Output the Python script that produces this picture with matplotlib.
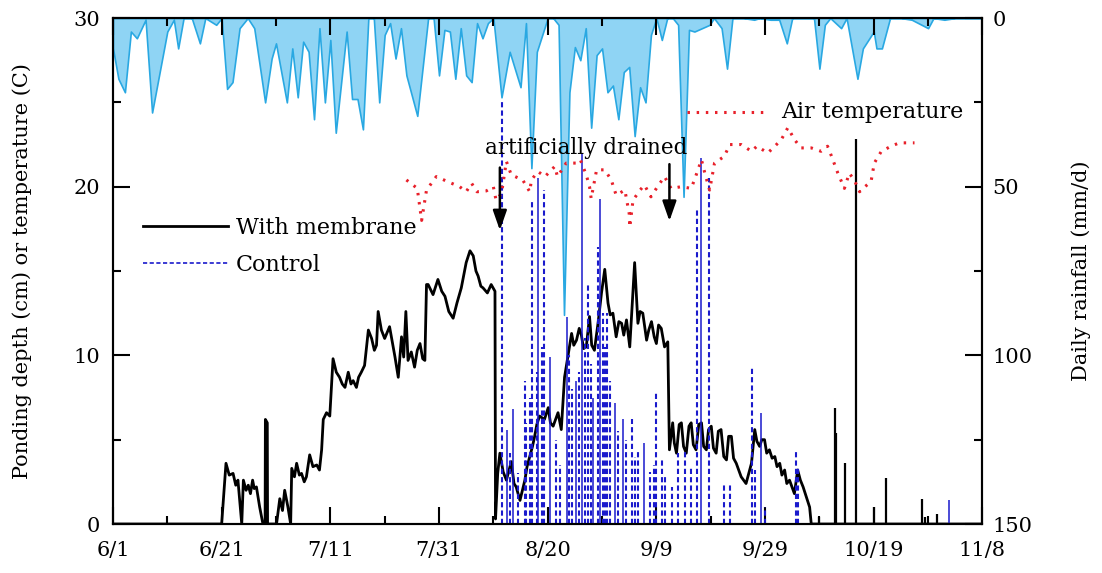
import matplotlib
matplotlib.use("Agg")
import matplotlib.pyplot as plt
from matplotlib.ticker import MultipleLocator

plt.rcParams['font.family'] = ['DejaVu Serif']

# dias contados desde el 1 de junio
x_ticks = [0, 20, 40, 60, 80, 100, 120, 140, 160]
x_labels = ["6/1", "6/21", "7/11", "7/31", "8/20", "9/9", "9/29", "10/19", "11/8"]

# lluvia diaria (mm/d), vertices
rain_day = [0, 1, 2.2, 3.3, 4.4, 6, 7.2, 10, 11.2, 12, 13, 14.5, 16, 17, 19, 20,
            21, 22, 23.3, 24.8, 26, 28, 29.2, 30, 32, 33, 34, 35, 36, 37, 38, 39,
            40, 41, 43, 44, 45, 46, 47, 48, 49, 50, 51, 52, 53, 54, 56, 58, 59,
            60, 61, 62, 63, 64, 65, 66, 67, 68, 69, 70, 71.5, 73, 75, 76, 77, 78,
            80, 81, 82, 83, 84, 85, 86, 87, 88, 89, 90, 91, 92, 93, 94, 95, 96,
            97, 98, 99, 100, 101, 102, 103, 104, 105, 106, 107, 109.8, 110.6, 112,
            113, 114, 116, 118, 119, 121, 122.6, 124, 125, 129, 130, 131, 132, 134,
            135, 137, 138, 140, 140.5, 141.5, 143, 145, 147, 150, 151, 153, 155, 160]
rain_mm = [9, 18, 22, 4, 6, 0.5, 28, 4, 0.5, 9, 0, 0, 7.5, 0, 2, 0,
           21, 19, 3, 0, 3, 25, 12, 7.5, 25, 9, 23.5, 7, 10, 30, 3, 25,
           6.5, 34, 4, 24, 24, 33, 0, 0, 25, 5, 1.5, 12, 3, 17, 29, 0, 0,
           17, 3.5, 4, 18, 3, 17, 19, 1.5, 6, 1.5, 0, 23.5, 10, 20.5, 1.5, 44.5, 10,
           0, 0, 2, 88, 22, 8.6, 12.5, 3, 32.5, 11, 9, 22, 20, 30, 16, 14.5, 35,
           20.5, 25, 5, 0, 6.5, 0, 0, 2, 53, 3.5, 4, 2, 0, 3,
           15, 0, 0, 0.5, 0, 0.5, 0.5, 7.5, 0, 0, 15, 2, 0, 3,
           0, 18, 9, 4, 9, 9, 0, 0, 0.5, 3, 0, 0.5, 0, 0]

# temperatura del aire (C)
temp_day = [54.0, 56.0, 56.8, 57.7, 59.5, 61.6, 63.8, 65.0, 66.0, 67.0, 68.7, 70.0,
            70.5, 71.5, 72.4, 73.3, 75.4, 76.7, 77.0, 78.2, 79.5, 81.3, 81.8, 83.4,
            85.3, 86.0, 87.1, 87.7, 88.0, 89.0, 90.5, 91.7, 92.6, 94.2, 95.0, 95.1,
            95.7, 97.0, 97.8, 99.0, 100.2, 101.5, 102.7, 104.6, 106.4, 107.0, 108.3,
            109.0, 109.8, 110.7, 112.5, 113.5, 115.6, 117.5, 118.5, 120.5, 121.8,
            123.0, 124.2, 125.4, 126.6, 128.5, 130.3, 131.5, 132.0, 133.4, 134.6,
            135.5, 136.4, 137.4, 138.0, 139.5, 140.1, 141.4, 143.2, 144.7, 147.5]
temp_c = [20.4, 19.9, 18.0, 19.8, 20.6, 20.3, 20.0, 19.7, 20.2, 19.7, 19.75, 20.0,
          19.2, 19.6, 21.5, 20.7, 20.4, 19.7, 20.4, 20.9, 20.6, 21.2, 20.6, 21.4,
          21.4, 21.6, 20.7, 20.0, 19.3, 21.0, 21.0, 20.4, 19.5, 19.8, 18.4, 17.6,
          19.2, 19.8, 20.1, 19.4, 20.0, 20.6, 19.9, 20.0, 19.9, 20.4, 21.6,
          20.7, 19.8, 21.4, 21.8, 22.5, 22.5, 22.1, 22.4, 22.0, 22.4,
          22.8, 23.5, 22.8, 22.3, 22.3, 22.1, 22.4, 22.0, 20.8, 19.9,
          20.8, 20.4, 19.7, 19.9, 20.3, 21.4, 22.1, 22.4, 22.6, 22.6]

# lamina de agua con membrana (cm)
memb_day = [0, 20.0, 20.8, 21.4, 22.1, 22.6, 23.0, 23.7, 24.0, 24.5, 24.9, 25.3,
            25.7, 26.0, 26.4, 27.0, 27.6, 28.0, 28.05, 28.4, 28.45, 30.1, 30.7,
            31.2, 31.6, 32.2, 32.7, 32.9, 33.4, 33.8, 34.3, 34.7, 35.2, 35.6, 36.2,
            36.8, 37.5, 38.0, 38.4, 38.7, 39.3, 39.9, 40.5, 41.1, 41.7, 42.2, 42.7,
            43.3, 43.8, 44.2, 44.8, 45.2, 45.7, 46.3, 47.0, 47.6, 48.1, 48.5, 48.8,
            49.4, 50.0, 50.9, 51.4, 51.9, 52.5, 53.1, 53.5, 53.9, 54.3, 54.9, 55.5,
            56.0, 56.5, 57.0, 57.4, 57.7, 58.0, 58.9, 59.8, 60.5, 61.1, 61.8, 62.6,
            63.3, 64.1, 65.0, 65.7, 66.3, 66.8, 67.2, 67.7, 68.1, 68.9, 69.6, 70.3,
            70.4, 70.8, 71.2, 71.8, 72.4, 73.3, 73.8, 74.2, 74.9, 75.8, 76.2, 76.7,
            77.2, 77.6, 78.0, 78.5, 79.4, 80.1, 80.5, 81.0, 81.9, 82.5, 83.1, 83.7,
            84.4, 84.8, 85.3, 85.8, 86.2, 86.6, 87.1, 87.7, 88.1, 88.6, 89.3, 89.9,
            90.5, 91.1, 91.5, 92.0, 92.6, 93.1, 93.6, 94.0, 94.5, 95.1, 96.0, 96.6,
            97.0, 97.5, 98.2, 98.6, 99.1, 99.6, 100.0, 100.4, 100.9, 101.5, 102.1,
            102.4, 103.0, 103.3, 103.7, 104.2, 104.6, 105.0, 105.5, 106.0, 106.4,
            106.8, 107.3, 107.8, 108.3, 108.7, 109.2, 109.6, 110.1, 110.5, 111.0,
            111.4, 111.9, 112.4, 112.9, 113.3, 113.8, 114.2, 114.7, 115.6, 116.5,
            117.5, 118.1, 118.5, 119.0, 119.4, 119.9, 120.3, 120.8, 121.3, 121.8,
            122.2, 122.7, 123.1, 123.6, 124.0, 124.5, 125.4, 126.0, 126.5, 127.0,
            127.6, 128.2, 128.5, 160]
memb_cm = [0, 0, 3.6, 2.9, 3.0, 2.3, 2.6, 0, 2.6, 2.0, 2.3, 1.8,
           2.6, 2.1, 2.2, 1.0, 0, 0, 6.2, 6.0, 0, 0, 1.5,
           0.8, 2.0, 1.0, 0, 3.3, 2.8, 3.6, 2.9, 3.0, 2.5, 2.8, 4.1,
           3.4, 3.5, 3.2, 4.4, 6.2, 6.6, 6.4, 9.8, 9.0, 8.7, 8.3, 8.1,
           9.0, 8.3, 8.5, 8.1, 8.7, 9.0, 9.4, 11.5, 11.0, 10.3, 10.6, 12.6,
           11.5, 11.0, 11.7, 10.8, 9.9, 8.7, 11.1, 9.9, 12.6, 9.7, 10.2, 9.3,
           10.3, 10.7, 9.8, 9.7, 14.2, 14.2, 13.6, 14.5, 13.8, 13.5, 12.6, 12.2,
           13.1, 14.0, 15.5, 16.2, 15.9, 15.0, 14.7, 14.1, 14.0, 13.7, 14.2, 13.8,
           0.3, 3.0, 4.2, 3.1, 2.6, 3.7, 2.4, 2.2, 1.4, 2.6, 3.4, 4.0,
           4.6, 5.2, 5.9, 6.4, 6.2, 6.9, 6.0, 5.8, 6.6, 5.6, 8.7, 9.9,
           11.3, 10.6, 10.9, 11.6, 11.2, 10.4, 10.5, 12.3, 10.6, 10.3, 12.0, 13.7,
           15.1, 13.1, 12.4, 12.5, 11.1, 12.0, 11.9, 11.2, 12.1, 10.5, 15.5, 11.9,
           12.6, 12.5, 10.9, 11.5, 12.0, 11.1, 10.7, 11.8, 11.6, 10.5, 10.8,
           4.4, 6.0, 4.8, 4.2, 5.9, 6.0, 4.6, 4.2, 5.8, 6.0,
           4.7, 4.4, 5.9, 6.0, 4.6, 4.4, 5.6, 5.8, 4.5, 4.2,
           5.5, 5.6, 4.0, 3.8, 5.2, 5.2, 3.9, 3.6, 2.8, 2.4,
           3.6, 5.6, 4.9, 4.6, 5.0, 5.0, 4.2, 4.4, 3.9, 4.0,
           3.4, 3.6, 2.9, 3.2, 2.4, 2.6, 1.8, 3.2, 2.6, 2.2,
           1.6, 1.0, 0, 0]

# picos aislados de la serie con membrana (cm)
memb_spike_day = [130.0, 132.8, 133.1, 134.8, 136.8, 140.0, 142.3, 148.9, 149.5, 151.7]
memb_spike_cm = [0.4, 6.9, 5.4, 3.6, 22.8, 1.0, 2.7, 1.5, 0.4, 0.6]

# testigo: picos con linea discontinua y con linea fina
ctrl_dash_day = [71.5, 73.0, 74.5, 75.8, 76.0, 76.7, 77.2, 78.0, 79.0, 79.4, 81.5,
                 82.2, 84.0, 84.4, 85.8, 86.9, 87.4, 88.0, 89.2, 90.1, 90.6, 91.0,
                 91.5, 93.0, 94.4, 95.6, 96.0, 96.6, 98.9, 99.5, 100.0, 101.0,
                 101.5, 102.8, 103.9, 105.2, 106.3, 107.4, 109.6, 112.5, 113.5,
                 117.6, 118.1, 119.9, 125.7, 126.0]
ctrl_dash_cm = [25.2, 4.2, 3.0, 8.5, 6.0, 7.5, 19.2, 9.0, 10.5, 19.8, 5.0,
                3.5, 10.0, 8.0, 9.0, 11.0, 14.3, 9.5, 16.4, 12.5, 10.5, 12.5,
                8.5, 5.5, 5.0, 6.2, 4.0, 4.4, 3.1, 3.5, 7.9, 3.8,
                2.8, 2.2, 4.2, 4.4, 3.4, 18.6, 20.5, 2.4, 2.4,
                9.3, 3.2, 1.0, 4.4, 3.4]
ctrl_solid_day = [72.5, 73.6, 78.3, 80.5, 83.5, 85.3, 86.4, 88.3, 89.6, 92.3, 93.8,
                  97.8, 108.3, 119.3, 153.8]
ctrl_solid_cm = [5.6, 6.8, 20.5, 9.9, 12.3, 8.5, 22.0, 7.5, 19.3, 7.2, 6.2,
                 4.8, 21.7, 6.6, 1.4]

blue = '#1a1acc'
dash = (0, (2.5, 1.5))

fig = plt.figure(figsize=(11.02, 5.73), dpi=100)
ax = fig.add_axes([0.1025, 0.0855, 0.789, 0.883])
ax2 = ax.twinx()

# lluvia en el eje derecho invertido
ax2.fill_between(rain_day, 0, rain_mm, facecolor='#8fd4f4', edgecolor='#29a8e2', lw=1.2)
ax2.set_ylim(150, 0)
ax2.set_yticks([0, 50, 100, 150])
ax2.yaxis.set_minor_locator(MultipleLocator(25))
ax2.set_ylabel("Daily rainfall (mm/d)", fontsize=15, labelpad=28)

ax.set_zorder(ax2.get_zorder() + 1)
ax.patch.set_visible(False)

ln_memb, = ax.plot(memb_day, memb_cm, color='black', lw=2, label="With membrane")
ax.vlines(memb_spike_day, 0, memb_spike_cm, color='black', lw=1.6)
ax.vlines(ctrl_solid_day, 0, ctrl_solid_cm, color=blue, lw=1.1)
ax.vlines(ctrl_dash_day, 0, ctrl_dash_cm, color=blue, lw=1.5, linestyles=dash)
ln_ctrl, = ax.plot([], [], color=blue, lw=1.2, ls=dash, label="Control")
ln_temp, = ax.plot(temp_day, temp_c, color='#e8202a', lw=2.2, ls=(0, (0.8, 2.2)))

ax.set_xlim(0, 160)
ax.set_ylim(0, 30)
ax.set_xticks(x_ticks)
ax.set_xticklabels(x_labels)
ax.xaxis.set_minor_locator(MultipleLocator(10))
ax.set_yticks([0, 10, 20, 30])
ax.yaxis.set_minor_locator(MultipleLocator(5))
ax.set_ylabel("Ponding depth (cm) or temperature (C)", fontsize=15, labelpad=30)

ax.tick_params(axis='x', which='both', direction='in', top=True, bottom=True, width=1.5, pad=12, labelsize=15)
ax.tick_params(axis='y', which='both', direction='in', left=True, right=False, width=1.5, pad=9, labelsize=15)
ax2.tick_params(axis='y', which='both', direction='in', width=1.5, pad=7, labelsize=15)
for a in (ax, ax2):
    a.tick_params(which='major', length=12)
    a.tick_params(which='minor', length=6)
    for s in a.spines.values():
        s.set_linewidth(1.5)

ax.legend(handles=[ln_memb, ln_ctrl], loc='upper left', bbox_to_anchor=(0.035, 0.607),
          frameon=False, fontsize=16, handlelength=3.8, handletextpad=0.35,
          labelspacing=0.68, borderpad=0, borderaxespad=0)

# rotulo de la temperatura
ax.plot([105.7, 120.8], [24.4, 24.4], color='#e8202a', lw=2.2, ls=(0, (0.8, 2.2)))
ax.text(123, 24.4, "Air temperature", fontsize=16, va='center', ha='left')

ax.text(87, 22.3, "artificially drained", fontsize=15.5, ha='center', va='center')
for d, tail, tip in [(71.2, 21.3, 17.25), (102.4, 21.5, 17.8)]:
    ax.annotate("", xy=(d, tip), xytext=(d, tail),
                arrowprops=dict(arrowstyle='-|>,head_length=1.2,head_width=0.42',
                                color='black', lw=1.8))

fig.savefig("out.png", dpi=100)
